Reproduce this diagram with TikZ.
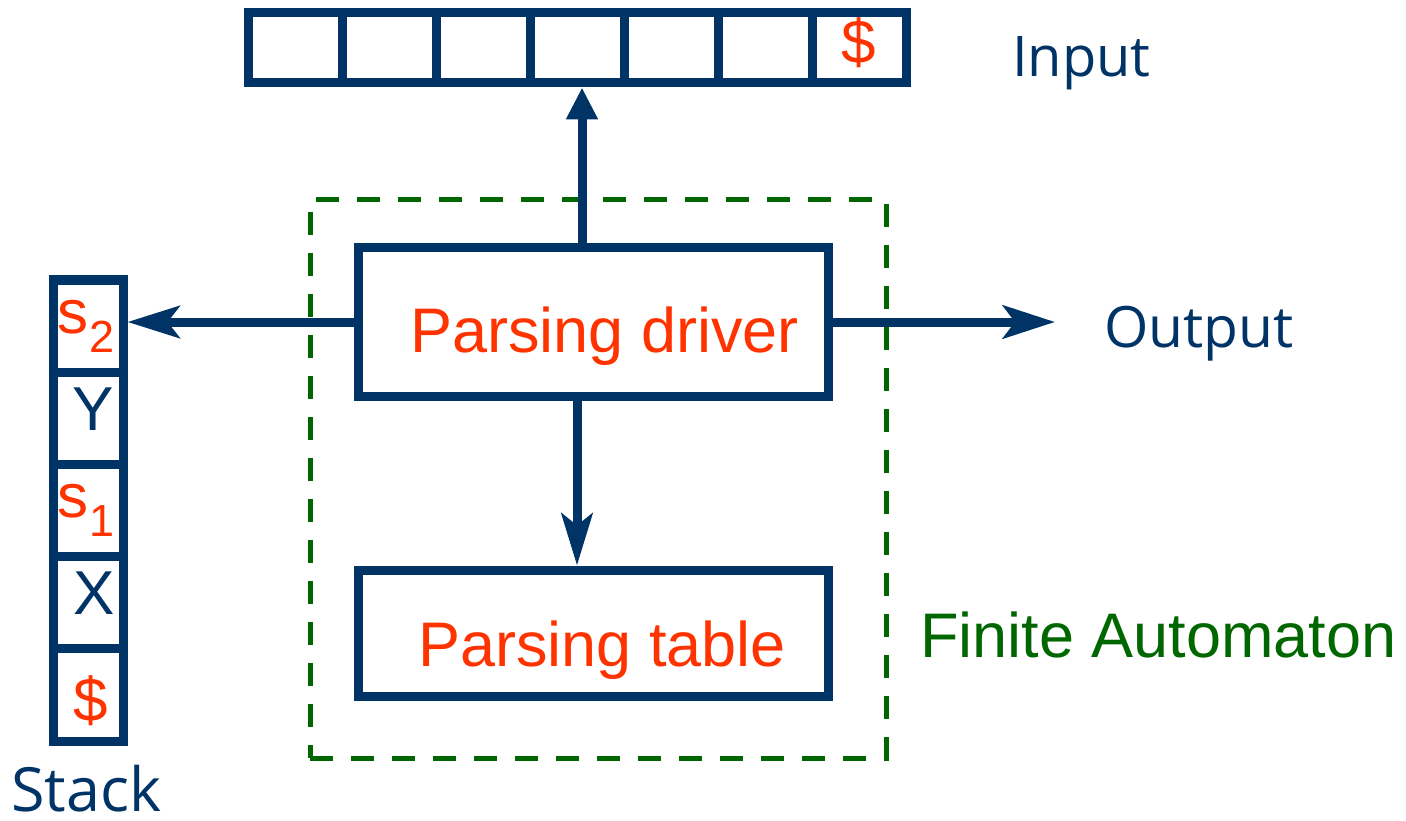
\documentclass[tikz,border=0pt]{standalone}
\usepackage{fontspec}
\setmainfont{Liberation Sans}
\newfontfamily\humfont{Open Sans}
\usetikzlibrary{arrows.meta}
\definecolor{navy}{HTML}{003366}
\definecolor{redorange}{HTML}{FF3300}
\definecolor{fagreen}{HTML}{006600}
\begin{document}
\begin{tikzpicture}[x=1pt,y=-1pt,
  cellbox/.style={draw=navy,line width=9pt,inner sep=0pt,outer sep=4.5pt,rectangle},
  incell/.style={cellbox,minimum width=94.14pt,minimum height=70pt},
  stcell/.style={cellbox,minimum width=69.5pt,minimum height=92.2pt},
  bigbox/.style={cellbox,minimum width=470pt},
  fabox/.style={draw=fagreen,line width=5pt,dash pattern=on 23pt off 18pt,inner sep=0pt,outer sep=0pt,minimum width=576pt,minimum height=558pt},
  conn/.style={draw=navy,line width=9pt},
  redtxt/.style={text=redorange,inner sep=0pt,font=\fontsize{63}{70}\selectfont},
  navytxt/.style={text=navy,inner sep=0pt,font=\humfont\fontsize{56}{64}\selectfont},
  symtxt/.style={inner sep=0pt,font=\fontsize{62}{70}\selectfont},
  subtxt/.style={inner sep=0pt,text=redorange,font=\fontsize{45}{50}\selectfont}
]
\useasboundingbox (0,0) rectangle (1406,821);

% input tape
\foreach \i in {1,...,7}{
  \node[incell] (in\i) at ({248+94.14*(\i-0.5)},48) {};
}
\node[symtxt,text=redorange,anchor=base] (indollar) at (859,64) {\$};
\node[navytxt,anchor=base west] (inputlbl) at (1012,77) {Input};

% stack
\foreach \i in {1,...,5}{
  \node[stcell] (st\i) at (88.25,{280+92.2*(\i-0.5)}) {};
}
\node[symtxt,text=redorange,anchor=base west] (s2s) at (57,333) {s};
\node[subtxt,anchor=base west] (s2n) at (89,352) {2};
\node[symtxt,text=navy,anchor=base] (yv) at (93,430) {Y};
\node[symtxt,text=redorange,anchor=base west] (s1s) at (57,517) {s};
\node[subtxt,anchor=base west] (s1n) at (89,536) {1};
\node[symtxt,text=navy,anchor=base] (xv) at (94,614) {X};
\node[symtxt,text=redorange,anchor=base] (stdollar) at (91,721) {\$};
\node[navytxt,font=\humfont\fontsize{61}{66}\selectfont,text depth=0pt,anchor=base west] (stacklbl) at (11,811) {Stack};

% finite automaton frame
\node[fabox] (fa) at (598,479) {};
\node[text=fagreen,inner sep=0pt,font=\fontsize{63}{70}\selectfont,anchor=base west] (falbl) at (920,657) {Finite Automaton};

% driver and table
\node[bigbox,minimum height=148pt] (drv) at (593,322) {};
\node[redtxt,anchor=base west] (drvlbl) at (410,352) {Parsing driver};
\node[bigbox,minimum height=126pt] (tbl) at (593,633) {};
\node[redtxt,anchor=base west] (tbllbl) at (418,666) {Parsing table};

% output
\node[navytxt,font=\humfont\fontsize{57}{64}\selectfont,anchor=base west] (outlbl) at (1104,347) {Output};
\coordinate (outend) at (1055,322);

% connectors
\coordinate (upx) at (582,0);
\coordinate (dnx) at (577,0);
\draw[conn,-{Triangle[length=32pt,width=30pt]}] (drv.north -| upx) -- (in4.south -| upx);
\draw[conn,-{Stealth[length=52pt,width=32pt,inset=12pt]}] (drv.west) -- (drv.west -| st1.east);
\draw[conn,-{Stealth[length=52pt,width=33pt,inset=12pt]}] (drv.east) -- (outend);
\draw[conn,-{Stealth[length=52pt,width=31pt,inset=12pt]}] (drv.south -| dnx) -- (tbl.north -| dnx);
\end{tikzpicture}
\end{document}
